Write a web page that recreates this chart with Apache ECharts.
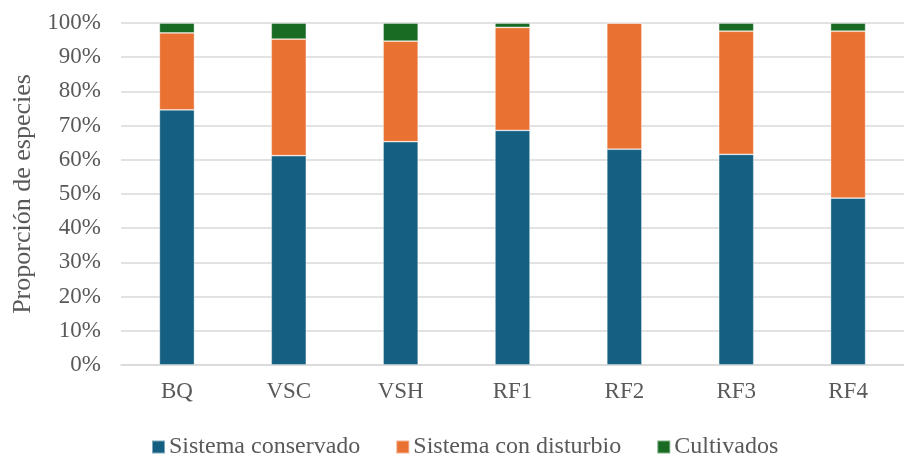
<!DOCTYPE html>
<html>
<head>
<meta charset="utf-8">
<script src="https://cdn.jsdelivr.net/npm/echarts@6/dist/echarts.min.js"></script>
<style>
  html, body { margin: 0; padding: 0; background: #fff; }
  #chart { width: 904px; height: 456px; }
</style>
</head>
<body>
<div id="chart"></div>
<script>
// Sites sampled
const categories = ['BQ', 'VSC', 'VSH', 'RF1', 'RF2', 'RF3', 'RF4'];

// Share of species (%) per origin group
const conservado = [74.6, 61.2, 65.3, 68.6, 63.1, 61.6, 48.8];
const disturbio  = [22.5, 34.1, 29.4, 30.1, 36.9, 36.0, 48.8];
const cultivados = [2.9, 4.7, 5.3, 1.3, 0.0, 2.4, 2.4];

const seriesNames = ['Sistema conservado', 'Sistema con disturbio', 'Cultivados'];
const yTicks = { min: 0, max: 100, interval: 10 };

const FONT = 'Liberation Serif';
const TEXT = '#595959';

const chart = echarts.init(document.getElementById('chart'), null, { renderer: 'canvas' });

const barStyle = (color) => ({
  color: color,
  borderColor: 'rgba(255,255,255,0.45)',
  borderWidth: 0.8
});

chart.setOption({
  animation: false,
  textStyle: { fontFamily: FONT },
  grid: { left: 121, top: 23, width: 792, bottom: 91, containLabel: false },
  legend: {
    data: seriesNames,
    left: 146,
    top: 430,
    itemWidth: 13,
    itemHeight: 13,
    itemGap: 35,
    icon: 'rect',
    textStyle: { fontFamily: FONT, fontSize: 24, color: TEXT, padding: [0, 0, 0, -1] }
  },
  xAxis: {
    type: 'category',
    data: categories,
    axisLine: { lineStyle: { color: '#d9d9d9', width: 1.5 } },
    axisTick: { show: false },
    axisLabel: { fontFamily: FONT, fontSize: 23, color: TEXT, margin: 15 }
  },
  yAxis: {
    type: 'value',
    min: yTicks.min,
    max: yTicks.max,
    interval: yTicks.interval,
    name: 'Proporción de especies',
    nameLocation: 'middle',
    nameGap: 84,
    nameTextStyle: { fontFamily: FONT, fontSize: 26, color: TEXT },
    axisLine: { show: false },
    axisTick: { show: false },
    splitLine: { lineStyle: { color: '#d9d9d9', width: 1.5 } },
    axisLabel: { fontFamily: FONT, fontSize: 23, color: TEXT, margin: 20, formatter: '{value}%' }
  },
  series: [
    { name: seriesNames[0], type: 'bar', stack: 'total', data: conservado, barWidth: '31.4%', itemStyle: barStyle('#156082') },
    { name: seriesNames[1], type: 'bar', stack: 'total', data: disturbio, barWidth: '31.4%', itemStyle: barStyle('#E97132') },
    { name: seriesNames[2], type: 'bar', stack: 'total', data: cultivados, barWidth: '31.4%', itemStyle: barStyle('#196B24') }
  ]
});
</script>
</body>
</html>
